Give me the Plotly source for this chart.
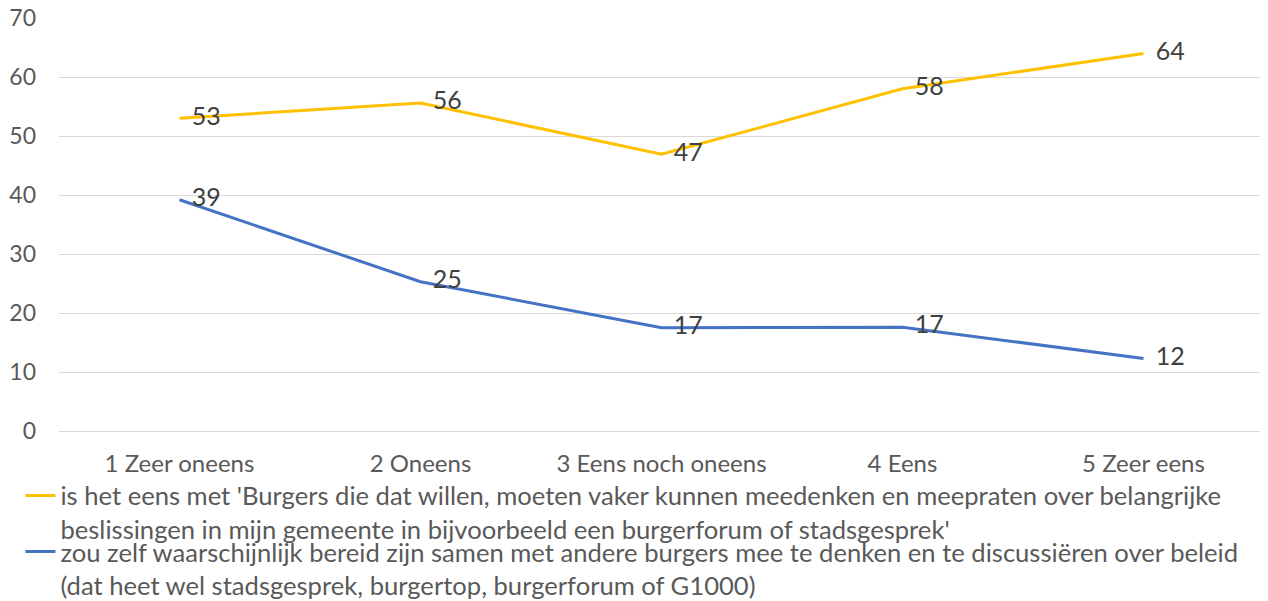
import plotly.graph_objects as go

categories = ["1 Zeer oneens", "2 Oneens", "3 Eens noch oneens", "4 Eens", "5 Zeer eens"]
eens_values = [53.0, 55.6, 46.9, 58.0, 64.0]
eens_labels = ["53", "56", "47", "58", "64"]
bereid_values = [39.2, 25.3, 17.5, 17.6, 12.3]
bereid_labels = ["39", "25", "17", "17", "12"]

eens_name = ("is het eens met 'Burgers die dat willen, moeten vaker kunnen meedenken en meepraten over belangrijke"
             "<br>beslissingen in mijn gemeente in bijvoorbeeld een burgerforum of stadsgesprek'")
bereid_name = ("zou zelf waarschijnlijk bereid zijn samen met andere burgers mee te denken en te discussiëren over beleid"
               "<br>(dat heet wel stadsgesprek, burgertop, burgerforum of G1000)")

FONT = "Lato"

fig = go.Figure()
series = [
    (eens_values, eens_labels, eens_name, "#FFC000", "legend"),
    (bereid_values, bereid_labels, bereid_name, "#4472C4", "legend2"),
]
for vals, labels, name, color, leg in series:
    fig.add_trace(go.Scatter(
        x=categories,
        y=vals,
        name=name,
        legend=leg,
        mode="lines+markers+text",
        line={"color": color, "width": 3},
        marker={"size": 18, "color": "rgba(0,0,0,0)"},
        text=labels,
        textposition="middle right",
        textfont={"size": 25, "color": "#404040", "family": FONT},
        cliponaxis=False,
    ))

legend_style = {
    "x": -0.032, "xanchor": "left", "yanchor": "top",
    "font": {"size": 25.6, "color": "#595959"},
    "itemwidth": 30,
    "valign": "top",
    "bgcolor": "rgba(0,0,0,0)",
}

# the page body has an 8px margin, so the figure is 8px smaller than the window
fig.update_layout(
    width=1260,
    height=593,
    margin={"l": 51, "r": 4, "t": 10, "b": 170, "autoexpand": False},
    plot_bgcolor="#fff",
    paper_bgcolor="#fff",
    font={"family": FONT, "size": 24, "color": "#595959"},
    showlegend=True,
    legend={**legend_style, "y": -0.1},
    legend2={**legend_style, "y": -0.236},
)
fig.update_xaxes(
    range=[-0.5, 4.5],
    showgrid=False,
    showline=False,
    ticks="",
    ticklabelstandoff=16,
    tickfont={"size": 24, "color": "#595959"},
)
fig.update_yaxes(
    range=[0, 70],
    dtick=10,
    showgrid=True,
    gridcolor="#d9d9d9",
    gridwidth=1,
    zeroline=True,
    zerolinecolor="#d9d9d9",
    zerolinewidth=1,
    ticklabelstandoff=22,
    ticklabeloverflow="allow",
    tickfont={"size": 23, "color": "#595959"},
)

fig.write_html("out.html")
